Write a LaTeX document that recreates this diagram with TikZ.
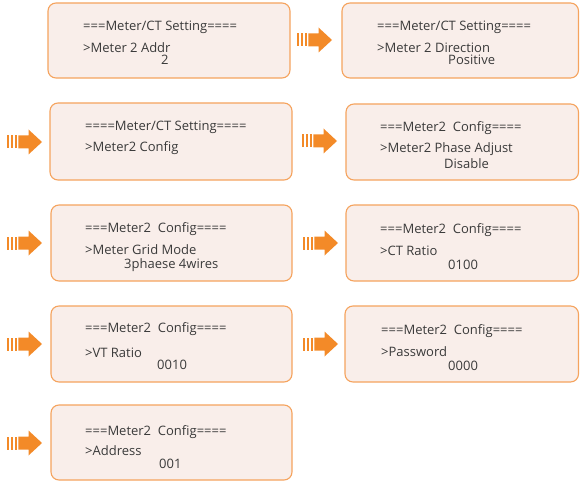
\documentclass[tikz,border=0pt]{standalone}
\usepackage{fontspec}
\setmainfont{Open Sans}
\usepackage{xcolor}
\usepackage{tikz}
\usetikzlibrary{positioning}

\definecolor{screenfill}{HTML}{F9EEEA}
\definecolor{screenline}{HTML}{F5A35E}
\definecolor{arroworange}{HTML}{F38A28}
\definecolor{screentext}{HTML}{3A3A3A}

\tikzset{
  screen/.style={draw=screenline, fill=screenfill, line width=1.1pt, rounded corners=8pt},
  txt/.style={anchor=base west, inner sep=0pt, text=screentext, font=\fontsize{13}{15}\selectfont},
}

\begin{document}
\begin{tikzpicture}[x=1pt, y=-1pt]
    \useasboundingbox (0,0) rectangle (580,481);

    % Schermi
    \draw[screen] (48,3) rectangle (290,78);
    \draw[screen] (342,3) rectangle (578.5,78);
    \draw[screen] (50,103) rectangle (292,180);
    \draw[screen] (346,104) rectangle (578.5,180);
    \draw[screen] (51,205) rectangle (292,281);
    \draw[screen] (346,205) rectangle (578.5,281);
    \draw[screen] (51,306) rectangle (292,382);
    \draw[screen] (345,306) rectangle (578.5,382);
    \draw[screen] (51,405) rectangle (292,480);

    % Testi
    \node[txt] (a1) at (83,31) {===Meter/CT Setting====};
    \node[txt] (a2) at (83,53) {>Meter 2 Addr};
    \node[txt] (a3) at (161,65) {2};

    \node[txt] (b1) at (377,31) {===Meter/CT Setting====};
    \node[txt] (b2) at (377,53) {>Meter 2 Direction};
    \node[txt] (b3) at (448,65) {Positive};

    \node[txt] (c1) at (85,131) {====Meter/CT Setting====};
    \node[txt] (c2) at (85,152) {>Meter2 Config};

    \node[txt] (d1) at (380,132) {===Meter2\ \ Config====};
    \node[txt] (d2) at (380,153) {>Meter2 Phase Adjust};
    \node[txt] (d3) at (444,168) {Disable};

    \node[txt] (e1) at (85,232) {===Meter2\ \ Config====};
    \node[txt] (e2) at (85,254) {>Meter Grid Mode};
    \node[txt] (e3) at (124,268) {3phaese 4wires};

    \node[txt] (f1) at (380,233) {===Meter2\ \ Config====};
    \node[txt] (f2) at (380,255) {>CT Ratio};
    \node[txt] (f3) at (448,269) {0100};

    \node[txt] (g1) at (85,332) {===Meter2\ \ Config====};
    \node[txt] (g2) at (85,357) {>VT Ratio};
    \node[txt] (g3) at (157,369) {0010};

    \node[txt] (h1) at (381,334) {===Meter2\ \ Config====};
    \node[txt] (h2) at (381,356) {>Password};
    \node[txt] (h3) at (448,370) {0000};

    \node[txt] (k1) at (85,435) {===Meter2\ \ Config====};
    \node[txt] (k2) at (85,455) {>Address};
    \node[txt] (k3) at (159,468) {001};

    % Frecce
    \foreach \ax/\ay in {297/40, 7/142, 302/141, 7/243, 303/243, 7/344, 303/344, 7/443} {
        \begin{scope}[shift={(\ax,\ay)}, fill=arroworange]
            \fill (0,-6.5) rectangle (2.3,6.5);
            \fill (3.9,-6.5) rectangle (6.2,6.5);
            \fill (7.8,-6.5) rectangle (10.1,6.5);
            \fill (11.4,-6.5) -- (21.5,-6.5) -- (21.5,-12.5) -- (35,0)
                -- (21.5,12.5) -- (21.5,6.5) -- (11.4,6.5) -- cycle;
        \end{scope}
    }
\end{tikzpicture}
\end{document}
